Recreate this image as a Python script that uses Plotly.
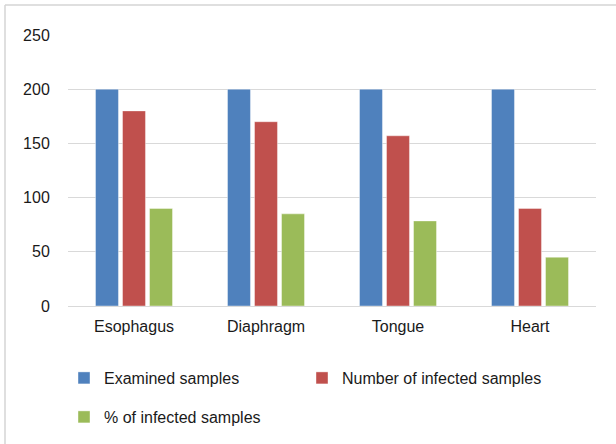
import plotly.graph_objects as go

categories = ["Esophagus", "Diaphragm", "Tongue", "Heart"]
examined = [200, 200, 200, 200]
infected = [180, 170, 157, 90]
percent_infected = [90, 85, 78.5, 45]
y_ticks = [0, 50, 100, 150, 200, 250]

W, H = 616, 444
L, R, T, B = 68, 20, 35, 138
pw, ph = W - L - R, H - T - B

def px_x(p):
    return (p - L) / pw

def px_y(p):
    return (H - B - p) / ph

FONT = "Liberation Sans"
TXT = "#1a1a1a"
EDGE = dict(color="rgba(255,255,255,0.5)", width=0.8)

fig = go.Figure()
fig.add_trace(go.Bar(x=categories, y=examined, name="Examined samples",
                     marker=dict(color="#4F81BD", line=EDGE), legend="legend"))
fig.add_trace(go.Bar(x=categories, y=infected, name="Number of infected samples",
                     marker=dict(color="#C0504D", line=EDGE), legend="legend2"))
fig.add_trace(go.Bar(x=categories, y=percent_infected, name="% of infected samples",
                     marker=dict(color="#9BBB59", line=EDGE), legend="legend3"))

def leg(xp, yp):
    return dict(orientation="h", x=px_x(xp), xanchor="left", y=px_y(yp), yanchor="middle",
                itemwidth=30, font=dict(family=FONT, size=16, color=TXT),
                bgcolor="rgba(0,0,0,0)", visible=True)

fig.update_layout(
    width=W, height=H,
    showlegend=True,
    margin=dict(l=L, r=R, t=T, b=B, autoexpand=False),
    paper_bgcolor="white", plot_bgcolor="white",
    font=dict(family=FONT, size=16, color=TXT),
    barmode="group", bargap=0.386, bargroupgap=0.15,
    xaxis=dict(showgrid=False, showline=False, zeroline=False,
               ticks="outside", ticklen=6, tickcolor="rgba(0,0,0,0)",
               tickfont=dict(family=FONT, size=16, color=TXT)),
    yaxis=dict(range=[0, 250], tickvals=y_ticks, showgrid=True, gridcolor="#d9d9d9",
               gridwidth=1, zeroline=True, zerolinecolor="#d9d9d9", zerolinewidth=1,
               showline=False, ticks="outside", ticklen=14, tickcolor="rgba(0,0,0,0)",
               tickfont=dict(family=FONT, size=16, color=TXT)),
    legend=leg(64, 378),
    legend2=leg(302, 378),
    legend3=leg(64, 417),
    shapes=[
        dict(type="line", xref="paper", yref="paper", x0=px_x(5), x1=px_x(W), y0=px_y(5), y1=px_y(5),
             line=dict(color="#d4d4d4", width=1.5)),
        dict(type="line", xref="paper", yref="paper", x0=px_x(5), x1=px_x(5), y0=px_y(5), y1=px_y(H),
             line=dict(color="#d4d4d4", width=1.5)),
    ],
)

fig.write_html("out.html", config={"displayModeBar": False},
               post_script="document.body.style.margin='0';")
